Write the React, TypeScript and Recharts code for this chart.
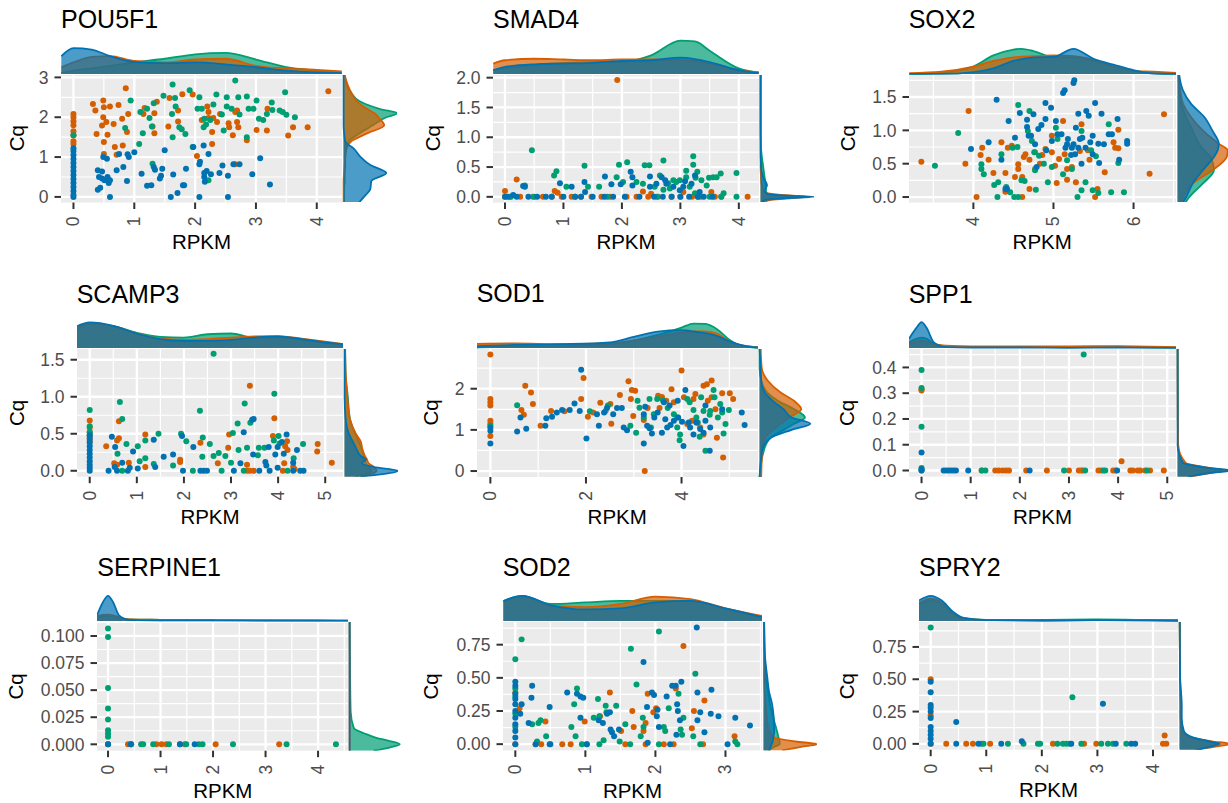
import {
  ScatterChart,
  Scatter,
  XAxis,
  YAxis,
  CartesianGrid,
  AreaChart,
  Area
} from "recharts";

type Pt = [number, number];

const ORANGE = "#D55E00";
const GREEN = "#009E73";
const BLUE = "#0072B2";
const FONT = "'Liberation Sans', Arial, Helvetica, sans-serif";

// ---------- POU5F1 ----------
const pouOrange: Pt[] = [
  [0.32, 2.33], [0.36, 2.17], [0.49, 2.42], [0.5, 2.25], [0.6, 2.27], [0.74, 2.31], [0.9, 2.08], [0.49, 2.0],
  [0.54, 1.88], [0.47, 1.79], [0.66, 1.83], [0.8, 1.96], [0.38, 1.58], [0.56, 1.56], [0.88, 1.63], [0.5, 1.38],
  [0.68, 1.25], [0.81, 1.29], [0.71, 1.06], [0.5, 1.08], [0.86, 2.73],
  [0, 2.08], [0, 2.0], [0, 1.9], [0, 1.8], [0, 1.65], [0, 1.55], [0, 1.4], [0, 1.33],
  [1.17, 2.23], [1.15, 2.08], [1.33, 2.1], [1.37, 2.39], [1.3, 1.77], [1.33, 1.6], [1.58, 2.48], [1.56, 1.77],
  [1.72, 1.89], [1.79, 2.58], [1.72, 2.17], [1.96, 2.57], [2.03, 1.03], [2.11, 1.93], [2.2, 2.27], [2.22, 2.13],
  [2.22, 1.98], [2.3, 1.98], [2.36, 1.88], [2.28, 1.63], [2.28, 1.33], [2.41, 2.08], [2.55, 1.85], [2.56, 1.75],
  [2.62, 1.55], [2.66, 2.13], [2.69, 2.17], [2.69, 1.88], [2.71, 1.75], [2.66, 0.82], [2.85, 1.42], [3.01, 1.68],
  [3.19, 2.21], [3.18, 1.67], [3.53, 1.54], [3.61, 1.75], [3.85, 1.75], [4.19, 2.65]
];
const pouGreen: Pt[] = [
  [0.94, 2.42], [0.85, 1.73], [1.08, 1.33], [1.14, 1.6], [1.29, 1.77], [1.3, 0.83], [1.1, 2.13], [1.21, 2.21],
  [1.25, 1.98], [1.32, 2.35], [1.48, 2.54], [1.63, 2.82], [1.62, 2.08], [1.63, 1.5], [1.67, 2.48], [1.68, 2.27],
  [1.74, 1.75], [1.78, 1.7], [1.84, 1.58], [1.91, 2.68], [1.96, 1.25], [2.07, 2.5], [2.04, 2.21], [2.11, 2.21],
  [2.15, 1.96], [2.14, 1.75], [2.18, 1.82], [2.25, 1.93], [2.22, 0.42], [2.3, 2.32], [2.35, 2.57], [2.44, 2.07],
  [2.47, 1.67], [2.52, 2.5], [2.52, 2.27], [2.6, 2.21], [2.66, 2.92], [2.71, 2.5], [2.73, 2.07], [2.85, 2.52],
  [2.88, 2.21], [2.85, 1.5], [2.96, 2.21], [3.01, 2.42], [3.05, 1.96], [3.12, 1.93], [3.18, 2.08], [3.26, 2.37],
  [3.27, 2.18], [3.39, 2.17], [3.44, 2.13], [3.5, 2.06], [3.48, 2.63], [3.64, 2.0], [0, 1.55]
];
const pouBlue: Pt[] = [
  [0, 1.22], [0, 1.15], [0, 1.05], [0, 0.95], [0, 0.85], [0, 0.75], [0, 0.65], [0, 0.55], [0, 0.45], [0, 0.35],
  [0, 0.25], [0, 0.15], [0, 0.05], [0, 0],
  [0.4, 0.18], [0.44, 0.23], [0.4, 0.67], [0.47, 0.64], [0.42, 0.5], [0.47, 0.46], [0.51, 0.42], [0.49, 1.0],
  [0.55, 0.96], [0.58, 0.35], [0.6, 0.42], [0.56, 0.5], [0.6, 0], [0.71, 0.67], [0.75, 1.08], [0.82, 0.75],
  [0.88, 0.4], [0.89, 1.07], [0.91, 1.0], [1.0, 1.12], [1.12, 0.58], [1.21, 0.28], [1.28, 0.29], [1.32, 0.75],
  [1.34, 0.68], [1.42, 0.46], [1.46, 0.71], [1.5, 1.17], [1.44, 0.53], [1.6, 0], [1.64, 0.56], [1.71, 0.1],
  [1.8, 0.29], [1.82, 0.29], [1.85, 0.71], [1.97, 1.25], [2.07, 0.82], [2.07, 0], [2.08, 0.88], [2.14, 1.29],
  [2.15, 0.6], [2.15, 0.5], [2.19, 0.65], [2.22, 1.08], [2.16, 0.38], [2.26, 0.57], [2.4, 0.6], [2.45, 0.79],
  [2.54, 0.53], [2.54, 0], [2.63, 0.82], [2.73, 0.82], [2.94, 0.57], [3.07, 0.97], [3.23, 0.31]
];
const pouTopX = [-0.2, 0, 0.3, 0.6, 1.0, 1.5, 2.0, 2.5, 3.0, 3.5, 4.0, 4.41];
const pouTopG = [0.03, 0.09, 0.15, 0.22, 0.31, 0.41, 0.53, 0.57, 0.39, 0.18, 0.09, 0.04];
const pouTopO = [0.18, 0.31, 0.46, 0.48, 0.35, 0.31, 0.39, 0.41, 0.22, 0.15, 0.11, 0.07];
const pouTopB = [0.48, 0.7, 0.66, 0.48, 0.32, 0.29, 0.31, 0.26, 0.18, 0.09, 0.04, 0.02];
const pouSideY = [-0.14, 0, 0.2, 0.4, 0.6, 0.8, 1.0, 1.2, 1.4, 1.6, 1.8, 2.0, 2.1, 2.2, 2.4, 2.6, 2.8, 3.06];
const pouSideG = [0.01, 0.01, 0.01, 0.02, 0.02, 0.03, 0.03, 0.05, 0.1, 0.3, 0.55, 0.8, 1.0, 0.7, 0.3, 0.15, 0.06, 0.02];
const pouSideO = [0, 0, 0, 0, 0.01, 0.02, 0.03, 0.05, 0.15, 0.45, 0.76, 0.65, 0.58, 0.45, 0.25, 0.15, 0.08, 0.02];
const pouSideB = [0.29, 0.38, 0.5, 0.52, 0.8, 0.5, 0.32, 0.2, 0.03, 0.01, 0, 0, 0, 0, 0, 0, 0, 0];

// ---------- SMAD4 ----------
const smadOrange: Pt[] = [
  [1.92, 1.96], [0.2, 0.29], [0, 0.1], [0.85, 0.1], [0.9, 0.07], [2.36, 0.09], [3.05, 0.08], [3.53, 0.08], [2.5, 0.05],
  [0, 0], [0.09, 0], [0.26, 0], [0.48, 0], [0.65, 0], [0.8, 0], [0.97, 0], [1.14, 0], [1.3, 0], [1.48, 0], [1.65, 0],
  [1.8, 0], [2.08, 0], [2.25, 0], [2.45, 0], [2.62, 0], [2.85, 0], [3.0, 0], [3.2, 0], [3.35, 0], [3.59, 0], [3.7, 0],
  [4.15, 0]
];
const smadGreen: Pt[] = [
  [0.46, 0.78], [0.34, 0.19], [0.88, 0.43], [0.84, 0.36], [1.05, 0.17], [1.36, 0.52], [1.42, 0.17], [1.61, 0.17],
  [1.95, 0.54], [2.09, 0.58], [1.91, 0.33], [2.02, 0.25], [2.25, 0.25], [2.36, 0.22], [2.39, 0.53], [2.47, 0.53],
  [2.65, 0.36], [2.71, 0.61], [2.79, 0.23], [2.88, 0.28], [2.93, 0.25], [2.99, 0.28], [3.1, 0.44], [3.1, 0.33],
  [3.22, 0.68], [3.22, 0.54], [3.29, 0.42], [3.26, 0.32], [3.36, 0.28], [3.45, 0.19], [3.49, 0.32], [3.56, 0.33],
  [3.62, 0.33], [3.69, 0.39], [3.74, 0.06], [3.96, 0.4], [3.96, 0], [3.7, 0], [3.25, 0.06], [2.71, 0.12],
  [2.56, 0.17], [2.82, 0.14], [3.16, 0.17], [0.1, 0], [0.5, 0], [1.2, 0], [1.75, 0], [2.6, 0], [3.3, 0], [3.5, 0]
];
const smadBlue: Pt[] = [
  [0, 0], [0.34, 0.17], [0.31, 0.18], [0.14, 0.03], [0.94, 0.23], [1.14, 0.17], [1.36, 0.25], [1.37, 0.08],
  [1.71, 0.34], [1.82, 0.21], [1.98, 0.21], [2.15, 0.42], [2.18, 0.33], [2.18, 0.19], [2.48, 0.34], [2.48, 0.17],
  [2.59, 0.22], [2.68, 0.33], [2.74, 0.28], [2.76, 0.22], [2.88, 0.17], [2.99, 0.11], [3.05, 0.17], [3.08, 0.26],
  [3.19, 0.22], [3.25, 0.36], [3.33, 0.08],
  [0.05, 0], [0.2, 0], [0.4, 0], [0.55, 0], [0.7, 0], [0.8, 0], [1.0, 0], [1.2, 0], [1.3, 0], [1.5, 0], [1.7, 0],
  [1.85, 0], [2.05, 0], [2.3, 0], [2.55, 0], [2.7, 0], [2.85, 0], [3.0, 0], [3.15, 0], [3.3, 0], [3.4, 0], [3.55, 0]
];
const smadTopX = [-0.2, 0, 0.5, 1.0, 1.5, 2.0, 2.5, 3.0, 3.25, 3.5, 4.0, 4.34];
const smadTopG = [0.1, 0.15, 0.24, 0.3, 0.32, 0.32, 0.5, 0.9, 0.88, 0.63, 0.15, 0.04];
const smadTopO = [0.28, 0.37, 0.41, 0.39, 0.37, 0.39, 0.39, 0.37, 0.35, 0.28, 0.1, 0.04];
const smadTopB = [0.1, 0.19, 0.26, 0.28, 0.3, 0.35, 0.37, 0.44, 0.4, 0.32, 0.1, 0.02];
const smadSideY = [-0.095, -0.05, -0.02, 0, 0.02, 0.05, 0.1, 0.2, 0.3, 0.5, 0.8, 1.2, 2.045];
const smadSideG = [0.03, 0.1, 0.4, 0.7, 0.4, 0.12, 0.1, 0.1, 0.08, 0.05, 0.01, 0, 0];
const smadSideO = [0.05, 0.2, 0.6, 0.9, 0.6, 0.2, 0.05, 0.02, 0.01, 0, 0, 0, 0];
const smadSideB = [0.02, 0.1, 0.5, 1.0, 0.5, 0.12, 0.08, 0.12, 0.06, 0.01, 0, 0, 0];

// ---------- SOX2 ----------
const soxOrange: Pt[] = [
  [3.35, 0.53], [3.94, 1.29], [3.9, 0.5], [4.04, 0], [4.09, 0.63], [4.11, 0.74], [4.19, 0.56], [4.25, 0.36],
  [4.35, 0.82], [4.4, 0.36], [4.4, 0.08], [4.43, 0.74], [4.48, 0.77], [4.56, 0.42], [4.56, 0.49], [4.52, 0.3],
  [4.61, 0], [4.61, 0.3], [4.63, 0.6], [4.65, 0.64], [4.7, 0.56], [4.7, 0.12], [4.77, 0.67], [4.77, 0.42],
  [4.83, 0.5], [4.86, 0.63], [4.9, 0.72], [4.98, 0.92], [4.98, 0.67], [5.02, 0.47], [5.04, 0.21], [5.07, 0.57],
  [5.12, 1.14], [5.14, 0.64], [5.17, 0.26], [5.17, 0.42], [5.23, 0.45], [5.28, 0.22], [5.33, 0.69], [5.35, 1.09],
  [5.43, 0.7], [5.45, 0.56], [5.52, 0], [5.55, 0.12], [5.64, 0.37], [5.75, 0.82], [5.77, 0.74], [5.81, 1.01],
  [5.81, 0.73], [6.2, 0.35], [6.38, 1.24]
];
const soxGreen: Pt[] = [
  [3.52, 0.47], [3.81, 0.96], [4.1, 0.49], [4.1, 0.42], [4.13, 0.34], [4.26, 0.18], [4.31, 0.22], [4.3, 0],
  [4.35, 0.64], [4.41, 0.15], [4.46, 0.07], [4.51, 0], [4.49, 0.74], [4.55, 0.75], [4.56, 1.38], [4.56, 0],
  [4.6, 0.25], [4.64, 0.24], [4.68, 0.99], [4.7, 1.29], [4.73, 0.84], [4.76, 0.67], [4.77, 0.4], [4.78, 0.11],
  [4.82, 0.62], [4.88, 0.5], [4.93, 0.22], [4.98, 0.45], [5.03, 1.04], [5.05, 0.87], [5.12, 0.34], [5.17, 0.55],
  [5.23, 0.42], [5.3, 0], [5.35, 0.1], [5.4, 0.22], [5.47, 0.7], [5.49, 0.1], [5.53, 0.61], [5.56, 0.06],
  [5.72, 0.07], [5.69, 1.09], [5.88, 0.07], [5.81, 0.51], [5.35, 0.99]
];
const soxBlue: Pt[] = [
  [4.29, 1.46], [3.97, 0.72], [4.19, 0.82], [4.35, 0.56], [4.42, 0.12], [4.44, 1.14], [4.52, 0.89], [4.58, 1.26],
  [4.67, 1.16], [4.67, 1.05], [4.69, 0.92], [4.72, 0.92], [4.75, 1.24], [4.77, 0.79], [4.79, 0.45], [4.81, 1.02],
  [4.85, 1.08], [4.9, 1.41], [4.9, 1.17], [4.91, 0.7], [4.97, 1.34], [4.98, 0.84], [5.03, 1.14], [5.05, 0.94],
  [5.1, 0.94], [5.12, 1.56], [5.14, 1.6], [5.15, 0.74], [5.17, 0.79], [5.18, 0.87], [5.23, 0.74], [5.25, 0.79],
  [5.25, 1.71], [5.26, 1.75], [5.27, 0.64], [5.28, 1.04], [5.31, 1.25], [5.33, 0.87], [5.35, 0.5], [5.36, 0.89],
  [5.4, 0.74], [5.41, 1.29], [5.44, 1.22], [5.46, 0.82], [5.49, 0.64], [5.49, 0.92], [5.52, 1.41], [5.56, 0.8],
  [5.57, 0.51], [5.6, 1.25], [5.63, 0.79], [5.69, 0.94], [5.73, 0.94], [5.8, 1.17], [5.82, 0.56], [5.92, 0.8],
  [5.92, 0.84], [5.31, 0.74], [5.22, 0.63], [4.4, 0.12]
];
const soxTopX = [3.2, 3.6, 4.0, 4.25, 4.5, 4.6, 4.75, 5.0, 5.25, 5.5, 5.75, 6.0, 6.25, 6.53];
const soxTopG = [0, 0.03, 0.2, 0.5, 0.66, 0.68, 0.62, 0.45, 0.45, 0.35, 0.2, 0.08, 0.02, 0];
const soxTopO = [0.02, 0.06, 0.2, 0.35, 0.45, 0.47, 0.48, 0.5, 0.48, 0.38, 0.2, 0.08, 0.06, 0.03];
const soxTopB = [0, 0, 0.05, 0.15, 0.35, 0.4, 0.45, 0.46, 0.68, 0.41, 0.25, 0.1, 0.01, 0];
const soxSideY = [-0.08, 0, 0.2, 0.4, 0.6, 0.7, 0.8, 1.0, 1.2, 1.4, 1.6, 1.83];
const soxSideG = [0.15, 0.22, 0.47, 0.68, 0.62, 0.5, 0.4, 0.28, 0.16, 0.07, 0.03, 0.02];
const soxSideO = [0.06, 0.1, 0.28, 0.65, 0.92, 0.94, 0.77, 0.47, 0.25, 0.1, 0.05, 0.02];
const soxSideB = [0.1, 0.16, 0.28, 0.47, 0.68, 0.75, 0.77, 0.65, 0.5, 0.25, 0.1, 0.03];

// ---------- SCAMP3 ----------
const scampOrange: Pt[] = [
  [0, 0.68], [0, 0.58], [0, 0.52], [0, 0.45], [0, 0.4], [0.35, 0.33], [0.58, 0.41], [0.62, 0.44], [0.62, 0.67],
  [0.52, 0.1], [0.58, 0.08], [0.83, 0.11], [1.18, 0.49], [1.18, 0.05], [1.92, 0.15], [1.92, 0.12], [2.35, 0.38],
  [2.72, 0.1], [2.96, 0.49], [2.94, 0.31], [3.4, 1.15], [3.34, 0.08], [3.34, 0], [3.4, 0], [3.48, 0], [3.92, 0.71],
  [3.89, 0.47], [4.1, 0], [4.13, 0.1], [4.15, 0.33], [4.19, 0.4], [4.2, 0.28], [4.32, 0.05], [4.35, 0.02],
  [4.83, 0.26], [4.84, 0.36], [5.14, 0.11]
];
const scampGreen: Pt[] = [
  [0, 0.82], [0, 0.6], [0, 0.52], [0, 0.48], [0.64, 0.93], [0.69, 0.7], [0.59, 0.23], [0.78, 0.36], [0.69, 0],
  [1.02, 0.33], [1.06, 0.13], [1.18, 0.41], [1.18, 0.17], [1.46, 0.5], [1.36, 0.09], [1.77, 0.07], [1.94, 0.5],
  [2.05, 0.4], [2.19, 0], [2.34, 0.81], [2.39, 0.19], [2.4, 0.45], [2.55, 0.36], [2.63, 1.58], [2.63, 0.2],
  [2.74, 0.24], [2.88, 0.2], [3.0, 0.11], [3.04, 0.51], [3.14, 0.64], [3.16, 0.28], [3.27, 0], [3.29, 0.91],
  [3.34, 0.31], [3.41, 0.65], [3.59, 0.31], [3.71, 0.31], [3.57, 0.21], [3.92, 1.04], [3.91, 0.41], [4.01, 0.47],
  [4.03, 0.37], [4.33, 0.17], [4.53, 0.36], [4.2, 0], [2.8, 0]
];
const scampBlue: Pt[] = [
  [0, 0.48], [0, 0.43], [0, 0.38], [0, 0.33], [0, 0.28], [0, 0.23], [0, 0.18], [0, 0.13], [0, 0.08], [0, 0.04],
  [0, 0], [0.47, 0.46], [0.4, 0], [0.54, 0.32], [0.53, 0.05], [0.58, 0], [0.69, 0.11], [0.81, 0], [0.85, 0.04],
  [0.92, 0.26], [1.02, 0.03], [1.36, 0.42], [1.39, 0.05], [1.57, 0.19], [1.77, 0.22], [1.96, 0.47], [1.98, 0],
  [2.2, 0.32], [2.35, 0], [2.42, 0], [2.49, 0], [3.06, 0], [3.2, 0.1], [3.27, 0.52], [3.45, 0.69], [3.48, 0.7],
  [3.47, 0.22], [3.6, 0], [3.73, 0.12], [3.75, 0.07], [3.8, 0.32], [3.94, 0.22], [3.99, 0.32], [3.99, 0.04],
  [4.08, 0.39], [4.12, 0.23], [4.18, 0.49], [4.32, 0.11], [4.32, 0], [4.4, 0.28], [4.47, 0], [4.54, 0], [3.82, 0]
];
const scampTopX = [-0.27, 0, 0.5, 1.0, 1.5, 2.0, 2.5, 3.0, 3.5, 4.0, 4.5, 5.0, 5.39];
const scampTopG = [0.5, 0.66, 0.59, 0.41, 0.3, 0.28, 0.37, 0.39, 0.28, 0.28, 0.22, 0.13, 0.08];
const scampTopO = [0.54, 0.68, 0.59, 0.39, 0.25, 0.22, 0.24, 0.28, 0.31, 0.32, 0.25, 0.17, 0.1];
const scampTopB = [0.59, 0.69, 0.6, 0.39, 0.24, 0.19, 0.19, 0.22, 0.28, 0.31, 0.24, 0.15, 0.1];
const scampSideY = [-0.08, 0, 0.05, 0.1, 0.15, 0.2, 0.3, 0.4, 0.5, 0.7, 1.0, 1.3, 1.645];
const scampSideG = [0.2, 0.5, 0.45, 0.4, 0.38, 0.36, 0.32, 0.26, 0.2, 0.1, 0.06, 0.02, 0.01];
const scampSideO = [0.3, 0.6, 0.55, 0.45, 0.42, 0.38, 0.33, 0.3, 0.21, 0.1, 0.05, 0.02, 0.01];
const scampSideB = [0.3, 1.0, 0.55, 0.32, 0.4, 0.3, 0.22, 0.15, 0.08, 0.02, 0, 0, 0];

// ---------- SOD1 ----------
const sodOneOrange: Pt[] = [
  [0, 2.83], [0, 1.75], [0, 1.67], [0, 1.59], [0, 1.22], [0, 1.15], [0, 0.85], [0.73, 2.07], [0.85, 1.91],
  [0.89, 1.63], [0.65, 1.48], [0.7, 1.37], [1.05, 1.1], [1.27, 1.46], [1.55, 1.45], [1.9, 1.75], [1.95, 2.26],
  [2.04, 1.32], [2.15, 1.42], [2.3, 1.66], [2.41, 1.46], [2.51, 1.63], [2.53, 1.15], [2.89, 2.18], [2.71, 1.85],
  [2.96, 1.97], [3.03, 1.95], [2.94, 1.75], [2.99, 1.34], [3.21, 1.24], [3.23, 0], [3.29, 1.53], [3.51, 1.83],
  [3.59, 1.8], [3.54, 1.53], [3.68, 1.71], [3.79, 1.99], [3.84, 1.67], [4.0, 2.44], [4.05, 1.79], [4.12, 1.14],
  [4.25, 1.75], [4.29, 1.87], [4.46, 2.07], [4.53, 2.11], [4.63, 2.2], [4.55, 1.71], [4.39, 1.06], [4.46, 0.89],
  [4.63, 1.79], [4.71, 1.5], [4.74, 0.81], [4.85, 1.89], [5.01, 1.89], [5.08, 1.75], [4.87, 0.33], [4.22, 1.22],
  [4.32, 1.18]
];
const sodOneGreen: Pt[] = [
  [0.56, 1.6], [2.46, 1.59], [2.08, 1.45], [2.93, 1.1], [3.05, 0.93], [3.08, 1.71], [3.12, 1.54], [3.21, 1.3],
  [3.33, 1.75], [3.36, 1.06], [3.49, 1.75], [3.61, 1.72], [3.71, 1.53], [3.84, 1.38], [3.91, 1.06], [3.97, 0.89],
  [3.96, 0.75], [4.12, 1.75], [4.17, 1.67], [4.25, 1.48], [4.31, 1.3], [4.34, 1.18], [4.38, 0.83], [4.41, 1.79],
  [4.46, 1.46], [4.5, 0.49], [4.59, 1.37], [4.6, 1.46], [4.67, 1.97], [4.69, 1.79], [4.76, 1.3], [4.81, 1.63],
  [4.85, 1.42], [4.92, 1.14], [4.88, 0.91], [4.99, 1.48], [0, 1.1], [3.42, 1.38], [3.91, 1.3]
];
const sodOneBlue: Pt[] = [
  [0, 1.06], [0, 0.98], [0, 0.67], [0.56, 0.96], [0.63, 1.3], [0.75, 1.03], [1.15, 1.1], [1.17, 1.28],
  [1.29, 1.32], [1.39, 1.42], [1.5, 1.48], [1.66, 1.48], [1.76, 1.64], [1.9, 2.46], [1.87, 1.46], [2.01, 0.79],
  [2.27, 1.1], [2.23, 1.38], [2.38, 1.42], [2.44, 1.53], [2.57, 1.38], [2.65, 1.53], [2.75, 1.53], [2.79, 1.06],
  [2.86, 0.99], [3.21, 0.67], [3.24, 1.56], [3.21, 1.38], [3.28, 1.1], [3.33, 1.04], [3.38, 0.91], [3.43, 1.3],
  [3.5, 1.42], [3.59, 0.93], [3.63, 1.67], [3.66, 1.26], [3.7, 1.06], [3.75, 1.59], [3.84, 1.22], [3.92, 1.71],
  [3.93, 1.3], [4.01, 1.2], [4.04, 0.61], [4.08, 1.97], [4.15, 1.18], [4.18, 1.06], [4.25, 0.89], [4.31, 1.18],
  [4.39, 1.02], [4.5, 1.59], [4.5, 1.22], [4.59, 0.49], [4.6, 1.06], [4.85, 1.5], [5.26, 1.42], [5.32, 1.12],
  [3.77, 1.12], [4.46, 0.93]
];
const sodOneTopX = [-0.28, 0.5, 1.5, 2.5, 3.0, 3.5, 4.0, 4.25, 4.5, 4.75, 5.0, 5.3, 5.6];
const sodOneTopG = [0.01, 0.03, 0.05, 0.1, 0.2, 0.35, 0.55, 0.66, 0.65, 0.5, 0.22, 0.04, 0];
const sodOneTopO = [0.11, 0.12, 0.1, 0.12, 0.2, 0.3, 0.42, 0.45, 0.45, 0.38, 0.18, 0.06, 0.02];
const sodOneTopB = [0.05, 0.08, 0.1, 0.15, 0.3, 0.44, 0.48, 0.45, 0.4, 0.32, 0.18, 0.06, 0.01];
const sodOneSideY = [-0.145, 0.5, 0.8, 1.0, 1.15, 1.3, 1.5, 1.7, 1.9, 2.2, 2.5, 2.965];
const sodOneSideG = [0, 0.08, 0.2, 0.45, 0.65, 0.85, 0.65, 0.35, 0.15, 0.03, 0, 0];
const sodOneSideO = [0.03, 0.05, 0.1, 0.25, 0.4, 0.55, 0.78, 0.65, 0.4, 0.15, 0.04, 0.02];
const sodOneSideB = [0, 0.05, 0.2, 0.6, 0.95, 0.6, 0.45, 0.25, 0.1, 0.03, 0.02, 0];

// ---------- SPP1 ----------
const sppOrange: Pt[] = [
  [0, 0.31], [0, 0.315], [4.07, 0.036], [1.22, 0], [1.5, 0], [1.57, 0], [1.65, 0], [1.72, 0], [1.78, 0], [2.13, 0],
  [2.55, 0], [3.0, 0], [3.2, 0], [3.25, 0], [3.28, 0], [3.6, 0], [3.65, 0], [3.9, 0], [3.95, 0], [4.25, 0], [4.3, 0],
  [4.4, 0], [4.45, 0], [4.55, 0], [4.65, 0], [4.93, 0]
];
const sppGreen: Pt[] = [
  [0, 0.39], [0, 0.32], [0, 0.17], [0, 0.01], [0, 0], [3.3, 0.45], [1.23, 0], [1.3, 0], [2.9, 0], [3.33, 0],
  [3.7, 0], [3.74, 0], [4.59, 0]
];
const sppBlue: Pt[] = [
  [0, 0.07], [0, 0], [0, 0.005], [0.45, 0], [0.5, 0], [0.55, 0], [0.6, 0], [0.65, 0], [0.7, 0], [0.95, 0],
  [2.2, 0], [3.98, 0]
];
const sppTopX = [-0.255, -0.1, 0, 0.1, 0.25, 0.5, 1.0, 2.0, 3.0, 4.0, 5.19];
const sppTopG = [0.15, 0.25, 0.28, 0.25, 0.12, 0.05, 0.03, 0.02, 0.02, 0.02, 0.01];
const sppTopO = [0.12, 0.18, 0.2, 0.18, 0.1, 0.06, 0.04, 0.04, 0.04, 0.05, 0.02];
const sppTopB = [0.25, 0.55, 0.7, 0.55, 0.15, 0.02, 0.01, 0.01, 0, 0.01, 0];
const sppSideY = [-0.024, -0.01, 0, 0.01, 0.03, 0.1, 0.3, 0.4715];
const sppSideG = [0.2, 0.5, 0.8, 0.5, 0.1, 0.01, 0.005, 0];
const sppSideO = [0.25, 0.6, 0.9, 0.6, 0.15, 0.01, 0, 0];
const sppSideB = [0.2, 0.6, 1.0, 0.6, 0.1, 0, 0, 0];

// ---------- SERPINE1 ----------
const serpOrange: Pt[] = [[0, 0], [0.38, 0], [0.92, 0], [1.02, 0], [1.11, 0], [1.46, 0], [2.05, 0], [3.26, 0], [0.44, 0]];
const serpGreen: Pt[] = [
  [0, 0.107], [0, 0.099], [0, 0.052], [0, 0.033], [0, 0.023], [0, 0.013], [0, 0.01], [0, 0.007], [0, 0],
  [0.63, 0], [0.67, 0], [0.86, 0], [1.16, 0], [1.37, 0], [1.49, 0], [1.73, 0], [1.8, 0], [2.38, 0], [3.4, 0],
  [4.34, 0], [0.44, 0]
];
const serpBlue: Pt[] = [[0, 0], [0.43, 0], [1.37, 0], [1.65, 0]];
const serpTopX = [-0.21, -0.1, 0, 0.1, 0.21, 0.4, 1.0, 2.0, 3.0, 4.0, 4.57];
const serpTopG = [0.08, 0.12, 0.13, 0.12, 0.08, 0.04, 0.03, 0.02, 0.02, 0.02, 0.01];
const serpTopO = [0.12, 0.16, 0.17, 0.15, 0.1, 0.04, 0.03, 0.02, 0.01, 0, 0];
const serpTopB = [0.15, 0.5, 0.68, 0.5, 0.15, 0.03, 0.01, 0.01, 0, 0, 0];
const serpSideY = [-0.0059, -0.003, 0, 0.003, 0.006, 0.01, 0.015, 0.03, 0.06, 0.1129];
const serpSideG = [0.45, 0.75, 0.94, 0.75, 0.5, 0.28, 0.08, 0.02, 0.01, 0];
const serpSideO = [0, 0, 0, 0, 0, 0, 0, 0, 0, 0];
const serpSideB = [0, 0, 0, 0, 0, 0, 0, 0, 0, 0];

// ---------- SOD2 ----------
const sodTwoOrange: Pt[] = [
  [0, 0.39], [0.06, 0.27], [0, 0], [0.29, 0], [0.37, 0], [0.43, 0.17], [0.67, 0], [0.79, 0], [0.99, 0.17],
  [1.21, 0.21], [1.35, 0.39], [1.51, 0.1], [1.67, 0.25], [1.69, 0.13], [1.83, 0.1], [1.86, 0.16], [1.89, 0.38],
  [1.97, 0.24], [2.01, 0.27], [2.12, 0], [2.26, 0], [2.29, 0.42], [2.52, 0.12], [2.55, 0.25], [2.4, 0.74],
  [2.7, 0.33], [2.68, 0], [1.86, 0], [3.13, 0.06], [1.57, 0]
];
const sodTwoGreen: Pt[] = [
  [0, 0.64], [0.09, 0.79], [0, 0.42], [0, 0.36], [0, 0.23], [0, 0.13], [0.24, 0.15], [0.36, 0.18], [0.33, 0.16],
  [0.44, 0.06], [0.31, 0.02], [0.88, 0.42], [0.84, 0.3], [0.8, 0.13], [0.86, 0.06], [0.95, 0], [1.02, 0],
  [1.12, 0.2], [1.18, 0.34], [1.2, 0.21], [1.29, 0.29], [1.3, 0.24], [1.26, 0.03], [1.2, 0], [1.44, 0.29],
  [1.49, 0.02], [1.57, 0.15], [1.65, 0.72], [1.73, 0.45], [1.79, 0.06], [1.82, 0.2], [1.83, 0.13], [2.05, 0.85],
  [2.12, 0.13], [2.14, 0.1], [2.19, 0.27], [2.33, 0.38], [2.36, 0.11], [2.38, 0.07], [2.4, 0.2], [2.57, 0.53],
  [2.54, 0.06], [2.64, 0], [3.14, 0.02], [3.17, 0], [1.64, 0], [2.05, 0]
];
const sodTwoBlue: Pt[] = [
  [0, 0.47], [0, 0.44], [0, 0.38], [0, 0.34], [0, 0.3], [0, 0.25], [0, 0.2], [0, 0.15], [0, 0.1], [0, 0.05], [0, 0],
  [0.09, 0.3], [0.07, 0.23], [0.24, 0.44], [0.23, 0.35], [0.19, 0.16], [0.29, 0], [0.49, 0.28], [0.49, 0],
  [0.74, 0.39], [0.88, 0.38], [0.93, 0.36], [0.97, 0.35], [0.93, 0.2], [1.19, 0.18], [1.25, 0.16], [1.31, 0.23],
  [1.35, 0.24], [1.36, 0.11], [1.38, 0.09], [1.41, 0.06], [1.48, 0.11], [1.83, 0.62], [1.88, 0.28], [1.89, 0.01],
  [1.95, 0.39], [1.98, 0.37], [2.02, 0.21], [2.03, 0.26], [2.05, 0.13], [2.16, 0.36], [2.21, 0], [2.24, 0.44],
  [2.29, 0.44], [2.3, 0.07], [2.31, 0.3], [2.32, 0.25], [2.35, 0.18], [2.37, 0.47], [2.59, 0.88], [2.6, 0.39],
  [2.6, 0.18], [2.64, 0.24], [2.7, 0.09], [2.79, 0.23], [2.8, 0.41], [2.9, 0.21], [3.03, 0], [3.14, 0.2],
  [3.35, 0.14], [0.5, 0], [1.02, 0]
];
const sodTwoTopX = [-0.17, 0.1, 0.5, 1.0, 1.5, 2.0, 2.5, 3.0, 3.53];
const sodTwoTopG = [0.54, 0.68, 0.46, 0.5, 0.54, 0.54, 0.54, 0.32, 0.1];
const sodTwoTopO = [0.52, 0.66, 0.41, 0.37, 0.46, 0.66, 0.59, 0.34, 0.13];
const sodTwoTopB = [0.54, 0.68, 0.43, 0.31, 0.34, 0.5, 0.54, 0.34, 0.1];
const sodTwoSideY = [-0.047, -0.02, 0, 0.02, 0.05, 0.1, 0.2, 0.3, 0.4, 0.5, 0.7, 0.921];
const sodTwoSideG = [0.1, 0.2, 0.3, 0.3, 0.28, 0.25, 0.18, 0.12, 0.08, 0.04, 0.02, 0.01];
const sodTwoSideO = [0.35, 0.7, 1.0, 0.6, 0.2, 0.1, 0.06, 0.04, 0.02, 0.01, 0.01, 0.01];
const sodTwoSideB = [0.1, 0.13, 0.15, 0.17, 0.18, 0.2, 0.19, 0.16, 0.1, 0.07, 0.02, 0.01];

// ---------- SPRY2 ----------
const spryOrange: Pt[] = [
  [0, 0.5], [0, 0.22], [0, 0], [0.28, 0], [0.64, 0], [0.76, 0], [1.07, 0], [2.2, 0], [2.76, 0], [2.98, 0],
  [4.18, 0], [4.24, 0], [4.21, 0.065]
];
const spryGreen: Pt[] = [
  [0, 0.9], [2.55, 0.36], [0.91, 0], [1.39, 0], [1.93, 0], [1.97, 0], [2.28, 0], [2.38, 0], [2.44, 0], [2.5, 0],
  [2.71, 0], [3.07, 0], [3.19, 0], [3.28, 0], [3.52, 0], [1.67, 0], [0.95, 0]
];
const spryBlue: Pt[] = [
  [0, 0.48], [0, 0.4], [0, 0.3], [0, 0.28], [0, 0.25], [0, 0.2], [0, 0.13], [0, 0.1], [0, 0.07], [0, 0.04], [0, 0],
  [0.46, 0.17], [0.46, 0], [0.86, 0], [1.27, 0], [1.64, 0.02], [2.53, 0], [3.1, 0.31], [3.33, 0], [3.61, 0], [3.68, 0]
];
const spryTopX = [-0.21, 0, 0.2, 0.4, 0.6, 1.0, 2.0, 3.0, 4.0, 4.45];
const spryTopG = [0.45, 0.55, 0.45, 0.2, 0.06, 0.03, 0.03, 0.04, 0.02, 0.01];
const spryTopO = [0.48, 0.6, 0.5, 0.22, 0.07, 0.02, 0.01, 0.02, 0.03, 0.03];
const spryTopB = [0.55, 0.68, 0.55, 0.25, 0.08, 0.02, 0.01, 0.02, 0.01, 0];
const sprySideY = [-0.045, -0.02, 0, 0.02, 0.05, 0.1, 0.2, 0.3, 0.5, 0.943];
const sprySideG = [0.3, 0.55, 0.7, 0.5, 0.2, 0.05, 0.02, 0.02, 0.01, 0.01];
const sprySideO = [0.3, 0.7, 0.95, 0.6, 0.2, 0.05, 0.02, 0.02, 0.01, 0];
const sprySideB = [0.35, 0.6, 0.75, 0.55, 0.25, 0.08, 0.04, 0.04, 0.01, 0];

type Panel = {
  title: string;
  x: number; y: number; w: number; h: number; cqX: number;
  xDomain: [number, number]; yDomain: [number, number];
  xTicks: number[]; yTicks: number[]; digits: number;
  orange: Pt[]; green: Pt[]; blue: Pt[];
  topX: number[]; topG: number[]; topO: number[]; topB: number[];
  sideY: number[]; sideG: number[]; sideO: number[]; sideB: number[];
};

const panels: Panel[] = [
  {
    title: "POU5F1", x: 61, y: 74.5, w: 281, h: 127.5, cqX: 23.5,
    xDomain: [-0.205, 4.415], yDomain: [-0.14, 3.06], xTicks: [0, 1, 2, 3, 4], yTicks: [0, 1, 2, 3], digits: 0,
    orange: pouOrange, green: pouGreen, blue: pouBlue,
    topX: pouTopX, topG: pouTopG, topO: pouTopO, topB: pouTopB,
    sideY: pouSideY, sideG: pouSideG, sideO: pouSideO, sideB: pouSideB
  },
  {
    title: "SMAD4", x: 493, y: 74.5, w: 266, h: 127.5, cqX: 439.5,
    xDomain: [-0.205, 4.345], yDomain: [-0.095, 2.045], xTicks: [0, 1, 2, 3, 4], yTicks: [0, 0.5, 1, 1.5, 2], digits: 1,
    orange: smadOrange, green: smadGreen, blue: smadBlue,
    topX: smadTopX, topG: smadTopG, topO: smadTopO, topB: smadTopB,
    sideY: smadSideY, sideG: smadSideG, sideO: smadSideO, sideB: smadSideB
  },
  {
    title: "SOX2", x: 908.7, y: 74.5, w: 267, h: 127.5, cqX: 854.5,
    xDomain: [3.196, 6.53], yDomain: [-0.082, 1.83], xTicks: [4, 5, 6], yTicks: [0, 0.5, 1, 1.5], digits: 1,
    orange: soxOrange, green: soxGreen, blue: soxBlue,
    topX: soxTopX, topG: soxTopG, topO: soxTopO, topB: soxTopB,
    sideY: soxSideY, sideG: soxSideG, sideO: soxSideO, sideB: soxSideB
  },
  {
    title: "SCAMP3", x: 76.7, y: 349, w: 266.6, h: 127.7, cqX: 24.5,
    xDomain: [-0.27, 5.39], yDomain: [-0.08, 1.645], xTicks: [0, 1, 2, 3, 4, 5], yTicks: [0, 0.5, 1, 1.5], digits: 1,
    orange: scampOrange, green: scampGreen, blue: scampBlue,
    topX: scampTopX, topG: scampTopG, topO: scampTopO, topB: scampTopB,
    sideY: scampSideY, sideG: scampSideG, sideO: scampSideO, sideB: scampSideB
  },
  {
    title: "SOD1", x: 476.7, y: 348.5, w: 281, h: 128, cqX: 438,
    xDomain: [-0.28, 5.6], yDomain: [-0.145, 2.965], xTicks: [0, 2, 4], yTicks: [0, 1, 2], digits: 0,
    orange: sodOneOrange, green: sodOneGreen, blue: sodOneBlue,
    topX: sodOneTopX, topG: sodOneTopG, topO: sodOneTopO, topB: sodOneTopB,
    sideY: sodOneSideY, sideG: sodOneSideG, sideO: sodOneSideO, sideB: sodOneSideB
  },
  {
    title: "SPP1", x: 908.7, y: 349, w: 267.6, h: 127.7, cqX: 854,
    xDomain: [-0.255, 5.19], yDomain: [-0.024, 0.4715], xTicks: [0, 1, 2, 3, 4, 5], yTicks: [0, 0.1, 0.2, 0.3, 0.4], digits: 1,
    orange: sppOrange, green: sppGreen, blue: sppBlue,
    topX: sppTopX, topG: sppTopG, topO: sppTopO, topB: sppTopB,
    sideY: sppSideY, sideG: sppSideG, sideO: sppSideO, sideB: sppSideB
  },
  {
    title: "SERPINE1", x: 97.3, y: 622, w: 251, h: 128.7, cqX: 23,
    xDomain: [-0.21, 4.57], yDomain: [-0.0059, 0.1129], xTicks: [0, 1, 2, 3, 4], yTicks: [0, 0.025, 0.05, 0.075, 0.1], digits: 3,
    orange: serpOrange, green: serpGreen, blue: serpBlue,
    topX: serpTopX, topG: serpTopG, topO: serpTopO, topB: serpTopB,
    sideY: serpSideY, sideG: serpSideG, sideO: serpSideO, sideB: serpSideB
  },
  {
    title: "SOD2", x: 502.7, y: 622.3, w: 259.6, h: 128.4, cqX: 438,
    xDomain: [-0.176, 3.53], yDomain: [-0.047, 0.921], xTicks: [0, 1, 2, 3], yTicks: [0, 0.25, 0.5, 0.75], digits: 2,
    orange: sodTwoOrange, green: sodTwoGreen, blue: sodTwoBlue,
    topX: sodTwoTopX, topG: sodTwoTopG, topO: sodTwoTopO, topB: sodTwoTopB,
    sideY: sodTwoSideY, sideG: sodTwoSideG, sideO: sodTwoSideO, sideB: sodTwoSideB
  },
  {
    title: "SPRY2", x: 919, y: 622.3, w: 259, h: 127.7, cqX: 854,
    xDomain: [-0.21, 4.45], yDomain: [-0.045, 0.943], xTicks: [0, 1, 2, 3, 4], yTicks: [0, 0.25, 0.5, 0.75], digits: 2,
    orange: spryOrange, green: spryGreen, blue: spryBlue,
    topX: spryTopX, topG: spryTopG, topO: spryTopO, topB: spryTopB,
    sideY: sprySideY, sideG: sprySideG, sideO: sprySideO, sideB: sprySideB
  }
];

const STRIP = 38; // top marginal height
const SIDE = 55; // right marginal width
const YAXIS_W = 70;
const XAXIS_H = 40;
const PAD_TOP = 12; // room for the top tick label
const DENS_DOMAIN: [number, number] = [-0.03, 1]; // keeps the zero outline inside the strip

// minor grid lines sit halfway between the major breaks
function minors(ticks: number[], dom: [number, number]) {
  const step = ticks[1] - ticks[0];
  const out: number[] = [];
  for (let v = ticks[0] - step / 2; v <= dom[1] + 1e-9; v += step) {
    if (v >= dom[0]) out.push(v);
  }
  return out;
}

const dot = (color: string) => (props: any) =>
  <circle cx={props.cx} cy={props.cy} r={3} fill={color} />;

const XTick = (props: any) => {
  const { x, y, payload } = props;
  return (
    <text x={x} y={y} transform={`rotate(-90 ${x} ${y})`} textAnchor="end" dominantBaseline="central"
      fontSize={17.5} fill="#4D4D4D" fontFamily={FONT}>
      {String(payload.value)}
    </text>
  );
};

const toObj = (a: Pt[]) => a.map(([x, y]) => ({ x, y }));

function MarginalPanel({ p }: { p: Panel }) {
  const topData = p.topX.map((x, i) => ({ x, g: p.topG[i], o: p.topO[i], b: p.topB[i] }));
  const sideData = p.sideY.map((y, i) => ({ y, g: p.sideG[i], o: p.sideO[i], b: p.sideB[i] }));
  const zero = { top: 0, right: 0, bottom: 0, left: 0 };
  const areaStyle = { fillOpacity: 0.7, strokeWidth: 1.8, isAnimationActive: false, dot: false, activeDot: false, baseValue: 0 };

  return (
    <>
      {/* top marginal density */}
      <div style={{ position: "absolute", left: p.x, top: p.y - STRIP }}>
        <AreaChart width={p.w} height={STRIP} data={topData} margin={zero}>
          <XAxis type="number" dataKey="x" domain={p.xDomain} hide allowDataOverflow />
          <YAxis type="number" domain={DENS_DOMAIN} hide allowDataOverflow />
          <Area type="monotone" dataKey="g" stroke={GREEN} fill={GREEN} {...areaStyle} />
          <Area type="monotone" dataKey="o" stroke={ORANGE} fill={ORANGE} {...areaStyle} />
          <Area type="monotone" dataKey="b" stroke={BLUE} fill={BLUE} {...areaStyle} />
        </AreaChart>
      </div>

      {/* right marginal density */}
      <div style={{ position: "absolute", left: p.x + p.w, top: p.y }}>
        <AreaChart layout="vertical" width={SIDE} height={p.h} data={sideData} margin={zero}>
          <XAxis type="number" domain={DENS_DOMAIN} hide allowDataOverflow />
          <YAxis type="number" dataKey="y" domain={p.yDomain} hide allowDataOverflow reversed />
          <Area type="monotone" dataKey="g" stroke={GREEN} fill={GREEN} {...areaStyle} />
          <Area type="monotone" dataKey="o" stroke={ORANGE} fill={ORANGE} {...areaStyle} />
          <Area type="monotone" dataKey="b" stroke={BLUE} fill={BLUE} {...areaStyle} />
        </AreaChart>
      </div>

      {/* main scatter */}
      <div style={{ position: "absolute", left: p.x - YAXIS_W, top: p.y - PAD_TOP }}>
        <ScatterChart width={YAXIS_W + p.w} height={p.h + XAXIS_H + PAD_TOP}
          margin={{ top: PAD_TOP, right: 0, bottom: 0, left: 0 }}>
          <CartesianGrid fill="#EBEBEB" stroke="#FFFFFF" strokeWidth={2.3} horizontalValues={p.yTicks} verticalValues={p.xTicks} />
          <CartesianGrid stroke="#FFFFFF" strokeWidth={1.2}
            horizontalValues={minors(p.yTicks, p.yDomain)} verticalValues={minors(p.xTicks, p.xDomain)} />
          <XAxis type="number" dataKey="x" domain={p.xDomain} ticks={p.xTicks} interval={0} allowDataOverflow
            axisLine={false} tickLine={{ stroke: "#333333", strokeWidth: 2 }} tickSize={6.5} tickMargin={7.5}
            height={XAXIS_H} tick={<XTick />} />
          <YAxis type="number" dataKey="y" domain={p.yDomain} ticks={p.yTicks} interval={0} allowDataOverflow
            axisLine={false} tickLine={{ stroke: "#333333", strokeWidth: 2 }} tickSize={6.5} tickMargin={6}
            width={YAXIS_W} tick={{ fill: "#4D4D4D", fontSize: 17.5, fontFamily: FONT }}
            tickFormatter={(v: number) => v.toFixed(p.digits)} />
          <Scatter data={toObj(p.orange)} fill={ORANGE} shape={dot(ORANGE)} isAnimationActive={false} />
          <Scatter data={toObj(p.green)} fill={GREEN} shape={dot(GREEN)} isAnimationActive={false} />
          <Scatter data={toObj(p.blue)} fill={BLUE} shape={dot(BLUE)} isAnimationActive={false} />
        </ScatterChart>
      </div>

      {/* titles */}
      <svg width={1228} height={803} style={{ position: "absolute", left: 0, top: 0, pointerEvents: "none" }}>
        <text x={p.x} y={p.y - 46.5} fontSize={25} fill="#000000" fontFamily={FONT}>{p.title}</text>
        <text x={p.x + p.w / 2} y={p.y + p.h + 47} fontSize={20.5} textAnchor="middle" fill="#000000" fontFamily={FONT}>
          RPKM
        </text>
        <text x={p.cqX} y={p.y + p.h / 2} transform={`rotate(-90 ${p.cqX} ${p.y + p.h / 2})`} fontSize={20.5}
          textAnchor="middle" fill="#000000" fontFamily={FONT}>
          Cq
        </text>
      </svg>
    </>
  );
}

export default function App() {
  return (
    <div style={{ position: "absolute", left: 0, top: 0, width: 1228, height: 803, background: "#FFFFFF", overflow: "hidden" }}>
      {panels.map((p) => (
        <MarginalPanel key={p.title} p={p} />
      ))}
    </div>
  );
}
